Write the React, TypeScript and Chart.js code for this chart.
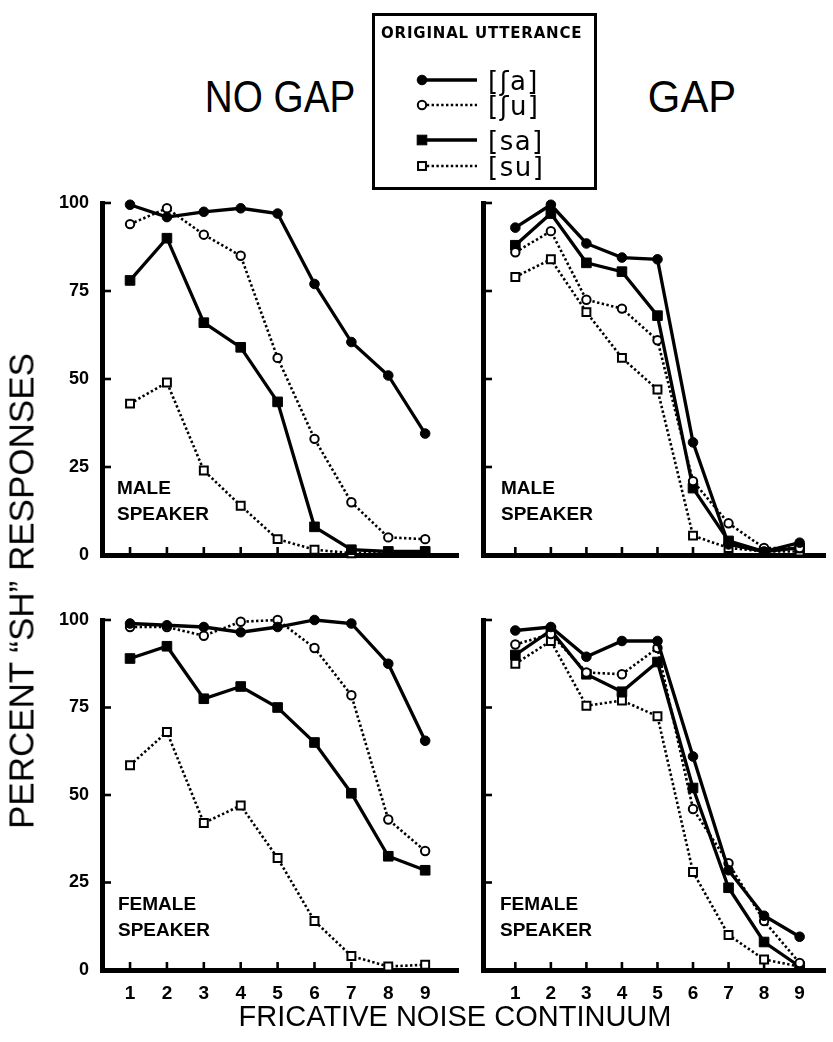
import React, { useEffect, useRef } from "react";
import { Chart, registerables } from "chart.js";

Chart.register(...registerables);

// ---------- data ----------
const continuum = [1, 2, 3, 4, 5, 6, 7, 8, 9];
const yTickValues = [0, 25, 50, 75, 100];
const utterances = ["[ʃa]", "[ʃu]", "[sa]", "[su]"];

// NO GAP, male speaker
const noGapMaleSha = [99.5, 96, 97.5, 98.5, 97, 77, 60.5, 51, 34.5];
const noGapMaleShu = [94, 98.5, 91, 85, 56, 33, 15, 5, 4.5];
const noGapMaleSa = [78, 90, 66, 59, 43.5, 8, 1.5, 1, 1];
const noGapMaleSu = [43, 49, 24, 14, 4.5, 1.5, 0.5, 1, 1];

// GAP, male speaker
const gapMaleSha = [93, 99.5, 88.5, 84.5, 84, 32, 3, 1, 3.5];
const gapMaleShu = [86, 92, 72.5, 70, 61, 21, 9, 2, 2];
const gapMaleSa = [88, 97, 83, 80.5, 68, 19, 4, 1, 2];
const gapMaleSu = [79, 84, 69, 56, 47, 5.5, 2, 1, 1];

// NO GAP, female speaker
const noGapFemaleSha = [99, 98.5, 98, 96.5, 98, 100, 99, 87.5, 65.5];
const noGapFemaleShu = [98, 98, 95.5, 99.5, 100, 92, 78.5, 43, 34];
const noGapFemaleSa = [89, 92.5, 77.5, 81, 75, 65, 50.5, 32.5, 28.5];
const noGapFemaleSu = [58.5, 68, 42, 47, 32, 14, 4, 1, 1.5];

// GAP, female speaker
const gapFemaleSha = [97, 98, 89.5, 94, 94, 61, 28.5, 15.5, 9.5];
const gapFemaleShu = [93, 96, 85, 84.5, 92, 46, 30.5, 14, 2];
const gapFemaleSa = [90, 97, 84.5, 79.5, 88, 52, 23.5, 8, 1];
const gapFemaleSu = [87.5, 94, 75.5, 77, 72.5, 28, 10, 3, 1];

// ---------- styles ----------
const seriesStyles = [
  { pointStyle: "circle", filled: true, dashed: false, radius: 4.8 },
  { pointStyle: "circle", filled: false, dashed: true, radius: 4.2 },
  { pointStyle: "rect", filled: true, dashed: false, radius: 6.8 },
  { pointStyle: "rect", filled: false, dashed: true, radius: 5.6 },
];

const TICK_FONT = "'Liberation Sans', Arial, sans-serif";

type Rect = { left: number; top: number; right: number; bottom: number };

type PanelProps = {
  area: Rect;
  xMin: number;
  xMax: number;
  showY: boolean;
  showX: boolean;
  series: number[][];
};

const innerTicks = {
  id: "innerTicks",
  beforeDatasetsDraw(chart: any) {
    const { ctx, chartArea, scales } = chart;
    ctx.save();
    ctx.strokeStyle = "#000";
    ctx.lineWidth = 2.6;
    for (const v of yTickValues) {
      if (v === 0) continue;
      const y = scales.y.getPixelForValue(v);
      ctx.beginPath();
      ctx.moveTo(chartArea.left, y);
      ctx.lineTo(chartArea.left + 9, y);
      ctx.stroke();
    }
    for (const v of continuum) {
      const x = scales.x.getPixelForValue(v);
      ctx.beginPath();
      ctx.moveTo(x, chartArea.bottom);
      ctx.lineTo(x, chartArea.bottom - 8);
      ctx.stroke();
    }
    ctx.restore();
  },
};

function Panel({ area, xMin, xMax, showY, showX, series }: PanelProps) {
  const ref = useRef<HTMLCanvasElement | null>(null);
  const marginL = showY ? 62 : 20;
  const marginR = area.right >= 833 ? 0 : 12;
  const marginT = 15;
  const marginB = showX ? 45 : 10;
  const cLeft = area.left - marginL;
  const cTop = area.top - marginT;
  const cW = area.right - area.left + marginL + marginR;
  const cH = area.bottom - area.top + marginT + marginB;

  useEffect(() => {
    if (!ref.current) return;
    const datasets = series.map((vals, i) => {
      const st = seriesStyles[i];
      return {
        label: utterances[i],
        data: continuum.map((x, j) => ({ x, y: vals[j] })),
        borderColor: "#000",
        backgroundColor: "#000",
        borderWidth: st.dashed ? 2.6 : 3.3,
        borderDash: st.dashed ? [2.4, 2.4] : [],
        pointStyle: st.pointStyle,
        pointRadius: st.radius,
        pointBackgroundColor: st.filled ? "#000" : "#fff",
        pointBorderColor: "#000",
        pointBorderWidth: st.filled ? 1 : 2,
        tension: 0,
        clip: false,
      };
    });
    const chart = new Chart(ref.current, {
      type: "line",
      data: { datasets } as any,
      plugins: [innerTicks],
      options: {
        animation: false,
        responsive: false,
        maintainAspectRatio: false,
        events: [],
        layout: { padding: { top: marginT, right: marginR, left: 0, bottom: 0 } },
        plugins: { legend: { display: false }, tooltip: { enabled: false } },
        scales: {
          x: {
            type: "linear",
            min: xMin,
            max: xMax,
            grid: { display: false, drawTicks: false },
            border: { display: true, width: 5, color: "#000" },
            ticks: {
              display: showX,
              color: "#000",
              padding: 12,
              maxRotation: 0,
              autoSkip: false,
              font: { family: TICK_FONT, size: 19, weight: "bold" },
            },
            afterBuildTicks: (s: any) => {
              s.ticks = continuum.map((v) => ({ value: v }));
            },
            afterFit: (s: any) => {
              s.height = marginB;
              s.paddingLeft = 0;
              s.paddingRight = 0;
            },
          },
          y: {
            type: "linear",
            min: 0,
            max: 100,
            grid: { display: false, drawTicks: false },
            border: { display: true, width: 5, color: "#000" },
            ticks: {
              display: showY,
              color: "#000",
              padding: 13,
              font: { family: TICK_FONT, size: 18, weight: "bold" },
            },
            afterBuildTicks: (s: any) => {
              s.ticks = yTickValues.map((v) => ({ value: v }));
            },
            afterFit: (s: any) => {
              s.width = marginL;
              s.paddingTop = 0;
              s.paddingBottom = 0;
            },
          },
        },
      } as any,
    });
    return () => chart.destroy();
  }, []);

  return (
    <canvas
      ref={ref}
      width={cW}
      height={cH}
      style={{ position: "absolute", left: cLeft, top: cTop, width: cW, height: cH }}
    />
  );
}

function Txt(props: {
  x: number;
  y: number;
  size: number;
  children: any;
  align?: "left" | "center";
  weight?: string;
  family?: string;
  scaleX?: number;
  spacing?: number;
}) {
  const { x, y, size, children, align = "left", weight = "normal", family, scaleX = 1, spacing = 0 } = props;
  const tx = align === "center" ? "translateX(-50%)" : "";
  return (
    <div
      style={{
        position: "absolute",
        left: x,
        top: y - 0.49 * size,
        fontSize: size,
        lineHeight: `${size}px`,
        fontWeight: weight as any,
        fontFamily: family || "'Liberation Sans', Arial, sans-serif",
        whiteSpace: "nowrap",
        letterSpacing: spacing,
        transform: `${tx} scaleX(${scaleX})`,
        transformOrigin: align === "center" ? "center" : "left",
        color: "#000",
      }}
    >
      {children}
    </div>
  );
}

function LegendSample({ idx, y }: { idx: number; y: number }) {
  const st = seriesStyles[idx];
  const x0 = 50;
  const x1 = 105;
  return (
    <g>
      <line
        x1={x0}
        y1={y}
        x2={x1}
        y2={y}
        stroke="#000"
        strokeWidth={st.dashed ? 2.6 : 3.3}
        strokeDasharray={st.dashed ? "2.4 2.4" : undefined}
      />
      {st.pointStyle === "circle" ? (
        <circle cx={x0} cy={y} r={st.radius} fill={st.filled ? "#000" : "#fff"} stroke="#000" strokeWidth={st.filled ? 1 : 2} />
      ) : (
        <rect
          x={x0 - st.radius * 0.707}
          y={y - st.radius * 0.707}
          width={st.radius * 1.414}
          height={st.radius * 1.414}
          fill={st.filled ? "#000" : "#fff"}
          stroke="#000"
          strokeWidth={st.filled ? 1 : 2}
        />
      )}
    </g>
  );
}

export default function App() {
  const legendLeft = 372;
  const legendTop = 13;
  const rowYs = [80, 105, 140, 166];
  return (
    <div
      style={{
        position: "absolute",
        left: 0,
        top: 0,
        width: 833,
        height: 1042,
        overflow: "hidden",
        background: "#fff",
      }}
    >
      <Panel area={{ left: 102, top: 203, right: 458, bottom: 555 }} xMin={0.24} xMax={9.89} showY={true} showX={false}
        series={[noGapMaleSha, noGapMaleShu, noGapMaleSa, noGapMaleSu]} />
      <Panel area={{ left: 483, top: 203, right: 833, bottom: 555 }} xMin={0.09} xMax={9.72} showY={false} showX={false}
        series={[gapMaleSha, gapMaleShu, gapMaleSa, gapMaleSu]} />
      <Panel area={{ left: 102, top: 620, right: 458, bottom: 970 }} xMin={0.24} xMax={9.89} showY={true} showX={true}
        series={[noGapFemaleSha, noGapFemaleShu, noGapFemaleSa, noGapFemaleSu]} />
      <Panel area={{ left: 483, top: 620, right: 833, bottom: 970 }} xMin={0.09} xMax={9.72} showY={false} showX={true}
        series={[gapFemaleSha, gapFemaleShu, gapFemaleSa, gapFemaleSu]} />

      {/* titles */}
      <Txt x={280} y={97} size={44} align="center" scaleX={0.88}>NO GAP</Txt>
      <Txt x={692} y={97} size={44} align="center" scaleX={0.95}>GAP</Txt>

      {/* speaker labels */}
      <Txt x={117} y={487} size={19} weight="bold">MALE</Txt>
      <Txt x={117} y={513} size={19} weight="bold">SPEAKER</Txt>
      <Txt x={501} y={487} size={19} weight="bold">MALE</Txt>
      <Txt x={501} y={513} size={19} weight="bold">SPEAKER</Txt>
      <Txt x={118} y={903} size={19} weight="bold">FEMALE</Txt>
      <Txt x={118} y={929} size={19} weight="bold">SPEAKER</Txt>
      <Txt x={500} y={903} size={19} weight="bold">FEMALE</Txt>
      <Txt x={500} y={929} size={19} weight="bold">SPEAKER</Txt>

      {/* axis titles */}
      <Txt x={455} y={1016} size={29} align="center">FRICATIVE NOISE CONTINUUM</Txt>
      <div
        style={{
          position: "absolute",
          left: 21,
          top: 591,
          transform: "translate(-50%, -50%) rotate(-90deg)",
          fontFamily: "'Liberation Sans', Arial, sans-serif",
          fontSize: 35,
          lineHeight: "35px",
          whiteSpace: "nowrap",
          color: "#000",
        }}
      >
        PERCENT “SH” RESPONSES
      </div>

      {/* legend */}
      <div
        style={{
          position: "absolute",
          left: legendLeft,
          top: legendTop,
          width: 225,
          height: 177,
          border: "3px solid #000",
          boxSizing: "border-box",
        }}
      />
      <Txt x={381} y={33} size={15} weight="bold" family="'DejaVu Sans', sans-serif" spacing={0.8}>
        ORIGINAL UTTERANCE
      </Txt>
      <svg
        width={225}
        height={177}
        style={{ position: "absolute", left: legendLeft, top: legendTop }}
      >
        {rowYs.map((y, i) => (
          <LegendSample key={i} idx={i} y={y - legendTop} />
        ))}
      </svg>
      {rowYs.map((y, i) => (
        <Txt key={i} x={488} y={y + 1} size={26} family="'DejaVu Sans', sans-serif" spacing={1.5}>
          {utterances[i]}
        </Txt>
      ))}
    </div>
  );
}
